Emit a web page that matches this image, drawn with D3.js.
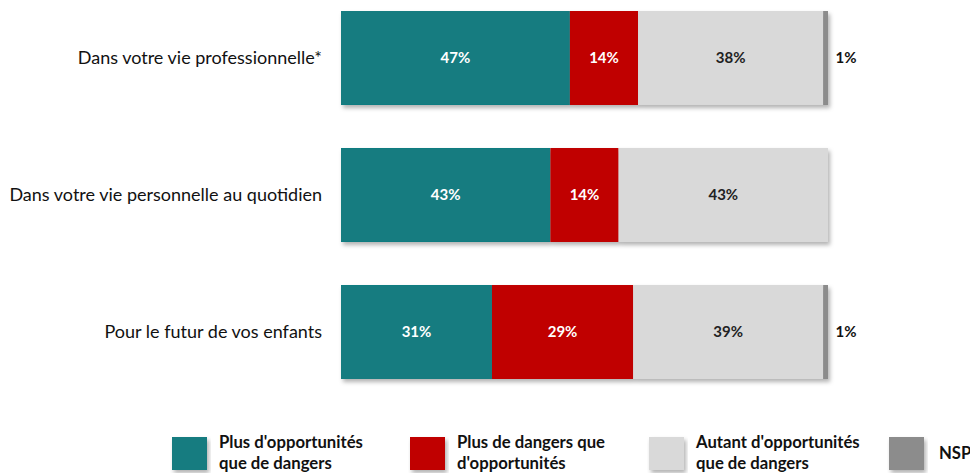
<!DOCTYPE html>
<html><head><meta charset="utf-8">
<script src="https://cdn.jsdelivr.net/npm/d3@7"></script>
<style>body{margin:0;background:#fff}svg{display:block}</style>
</head><body>
<svg id="c" width="970" height="473"></svg>
<script>
const categories = ["Dans votre vie professionnelle*", "Dans votre vie personnelle au quotidien", "Pour le futur de vos enfants"];
const seriesNames = ["Plus d'opportunités|que de dangers", "Plus de dangers que|d'opportunités", "Autant d'opportunités|que de dangers", "NSP"];
const plusOpp = [47, 43, 31];
const plusDang = [14, 14, 29];
const autant = [38, 43, 39];
const nsp = [1, 0, 1];
const colors = ["#127C80", "#C00000", "#D9D9D9", "#8C8C8C"];
const labelColors = ["#fff", "#fff", "#222", "#111"];

const series = [plusOpp, plusDang, autant, nsp];
const svg = d3.select("#c");
const font = "Lato, sans-serif";

const defs = svg.append("defs");
const f = defs.append("filter").attr("id","sh").attr("x","-5%").attr("y","-10%").attr("width","115%").attr("height","130%");
f.append("feDropShadow").attr("dx",2).attr("dy",3).attr("stdDeviation",2).attr("flood-color","#000").attr("flood-opacity",0.3);

const x = d3.scaleLinear().domain([0,100]).range([341, 828]);
const y = d3.scaleBand().domain(categories).range([11, 379]).paddingInner(0.314).paddingOuter(0);

const data = categories.map((c,i)=>{
  let acc = 0;
  return series.map((s,k)=>{ const d={cat:c,k,v:s[i],x0:acc,x1:acc+s[i]}; acc+=s[i]; return d; });
});

const g = svg.append("g");
data.forEach(row=>{
  const rg = g.append("g").attr("filter","url(#sh)");
  rg.selectAll("rect").data(row.filter(d=>d.v>0)).join("rect")
    .attr("x",d=>x(d.x0)).attr("width",d=>x(d.x1)-x(d.x0))
    .attr("y",d=>y(d.cat)).attr("height",y.bandwidth())
    .attr("fill",d=>colors[d.k]);
  g.selectAll(null).data(row.filter(d=>d.v>0)).join("text")
    .attr("x",d=>d.k===3 ? x(d.x1)+18 : (x(d.x0)+x(d.x1))/2)
    .attr("y",d=>y(d.cat)+y.bandwidth()/2)
    .attr("dy","0.35em").attr("text-anchor","middle")
    .attr("font-family",font).attr("font-size",15).attr("font-weight","bold")
    .attr("fill",d=>labelColors[d.k])
    .text(d=>d.v+"%");
});

svg.append("g").selectAll("text").data(categories).join("text")
  .attr("x",322).attr("y",d=>y(d)+y.bandwidth()/2).attr("dy","0.35em")
  .attr("text-anchor","end").attr("font-family",font).attr("font-size",18).attr("fill","#111")
  .text(d=>d);

const legX = [172, 410, 649, 889];
const lg = svg.append("g");
seriesNames.forEach((n,k)=>{
  lg.append("rect").attr("x",legX[k]).attr("y",437).attr("width",35).attr("height",33)
    .attr("fill",colors[k]).attr("filter","url(#sh)");
  const lines = n.split("|");
  const t = lg.append("text").attr("font-family",font).attr("font-size",16.7).attr("font-weight","bold").attr("fill","#111");
  if(lines.length===1){
    t.append("tspan").attr("x",legX[k]+50).attr("y",459).text(lines[0]);
  } else {
    lines.forEach((l,j)=>t.append("tspan").attr("x",legX[k]+47).attr("y",448+j*21).text(l));
  }
});
</script>
</body></html>
